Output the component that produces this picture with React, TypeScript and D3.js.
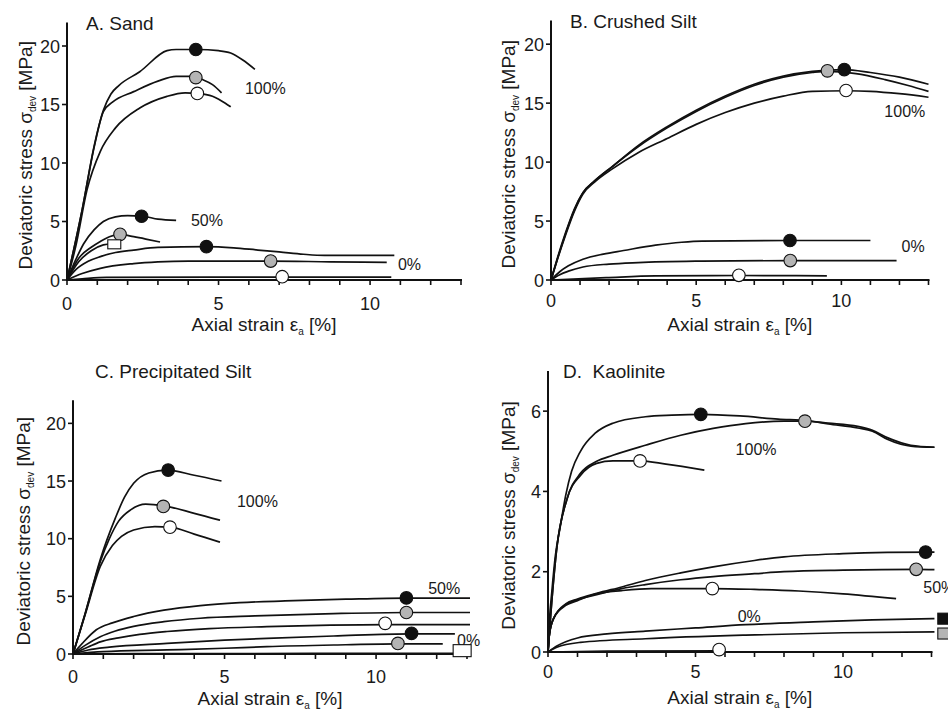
import React from 'react';
import * as d3 from 'd3';

type Pt = [number, number];
type Kind = 'solid' | 'gray' | 'open';
type Shape = 'circle' | 'square';

// ---------- A. Sand ----------
const sandSolid100: Pt[] = [[0,0],[0.5,6],[0.9,11.5],[1.2,14.5],[1.45,15.9],[1.7,16.6],[2.4,17.8],[3.3,19.6],[3.6,19.7],[4.3,19.7],[5,19.6],[5.4,19.4],[5.8,18.8],[6.2,18]];
const sandGray100: Pt[] = [[0,0],[0.5,6],[0.9,11.4],[1.2,14.4],[1.5,15.2],[2.2,16.1],[3,17],[3.6,17.4],[4.1,17.4],[4.5,17.1],[4.8,16.7],[5.1,16]];
const sandOpen100: Pt[] = [[0,0],[0.3,3],[0.66,7.7],[1.1,11],[1.6,13],[2.4,14.7],[3.3,15.7],[3.9,16],[4.3,15.95],[4.8,15.7],[5.1,15.3],[5.4,14.8]];
const sandSolid50: Pt[] = [[0,0],[0.3,1.8],[0.55,3.1],[0.9,4.3],[1.2,5.0],[1.6,5.4],[2.0,5.5],[2.5,5.45],[3.0,5.2],[3.6,5.1]];
const sandGray50: Pt[] = [[0,0],[0.4,1.9],[0.8,2.8],[1.1,3.3],[1.4,3.7],[1.75,3.9],[2.2,3.7],[2.6,3.5],[3.07,3.25]];
const sandOpen50: Pt[] = [[0,0],[0.4,1.6],[0.8,2.5],[1.2,3.0],[1.5,3.1]];
const sandSolid0: Pt[] = [[0,0],[0.3,0.9],[0.7,1.6],[1.1,2.0],[1.6,2.35],[2.2,2.56],[3,2.78],[4.6,2.85],[5.5,2.75],[6.3,2.56],[7,2.4],[7.8,2.2],[8.5,2.1],[10.8,2.1]];
const sandGray0: Pt[] = [[0,0],[0.5,0.55],[1.1,1.0],[2.2,1.4],[3,1.55],[4,1.62],[6.7,1.62],[8.7,1.55],[10.55,1.5]];
const sandOpen0: Pt[] = [[0,0],[0.5,0.1],[1.3,0.22],[7,0.25],[10.7,0.25]];
const sandMarkers: { x: number; y: number; kind: Kind; shape: Shape }[] = [
  { x: 4.25, y: 19.7, kind: 'solid', shape: 'circle' },
  { x: 4.25, y: 17.3, kind: 'gray', shape: 'circle' },
  { x: 4.3, y: 15.95, kind: 'open', shape: 'circle' },
  { x: 2.46, y: 5.45, kind: 'solid', shape: 'circle' },
  { x: 1.75, y: 3.9, kind: 'gray', shape: 'circle' },
  { x: 1.56, y: 3.05, kind: 'open', shape: 'square' },
  { x: 4.6, y: 2.85, kind: 'solid', shape: 'circle' },
  { x: 6.72, y: 1.62, kind: 'gray', shape: 'circle' },
  { x: 7.1, y: 0.28, kind: 'open', shape: 'circle' },
];
const sandLabels = [
  { text: '100%', x: 5.87, y: 15.9 },
  { text: '50%', x: 4.09, y: 4.6 },
  { text: '0%', x: 10.92, y: 0.85 },
];

// ---------- B. Crushed Silt ----------
const csSolid100: Pt[] = [[0,0],[0.2,1.6],[0.5,3.9],[0.8,5.9],[1.1,7.4],[1.5,8.4],[2.1,9.6],[3.0,11.4],[4.0,13.0],[5.0,14.4],[6.0,15.6],[7.0,16.6],[8.0,17.3],[9.0,17.7],[10.1,17.85],[11,17.6],[12,17.2],[13,16.6]];
const csGray100: Pt[] = [[0,0],[0.2,1.7],[0.5,4.0],[0.8,6.0],[1.1,7.4],[1.5,8.4],[2.1,9.6],[3.0,11.3],[4.0,12.9],[5.0,14.3],[6.0,15.5],[7.0,16.5],[8.0,17.2],[9.0,17.6],[9.5,17.7],[10.5,17.5],[11.5,17.0],[12.3,16.5],[13,16.0]];
const csOpen100: Pt[] = [[0,0],[0.2,1.6],[0.5,3.8],[0.8,5.8],[1.1,7.3],[1.5,8.3],[2.1,9.4],[3,10.8],[4,12.0],[5,13.2],[6,14.2],[7,15.0],[8,15.6],[9,16.0],[10.2,16.05],[11,16.0],[12,15.8],[13,15.5]];
const csSolid0: Pt[] = [[0,0],[0.3,0.7],[0.6,1.2],[1.1,1.76],[1.8,2.2],[2.5,2.5],[3.6,2.95],[4.5,3.2],[5.2,3.3],[8.2,3.35],[11,3.35]];
const csGray0: Pt[] = [[0,0],[0.3,0.45],[0.6,0.75],[1.1,1.1],[2,1.35],[3,1.48],[5.2,1.6],[8.2,1.65],[11.9,1.65]];
const csOpen0: Pt[] = [[0,0],[1.9,0.2],[3.6,0.35],[6.5,0.38],[9.5,0.35]];
const csMarkers: { x: number; y: number; kind: Kind; shape: Shape }[] = [
  { x: 10.1, y: 17.85, kind: 'solid', shape: 'circle' },
  { x: 9.52, y: 17.74, kind: 'gray', shape: 'circle' },
  { x: 10.16, y: 16.07, kind: 'open', shape: 'circle' },
  { x: 8.23, y: 3.35, kind: 'solid', shape: 'circle' },
  { x: 8.24, y: 1.65, kind: 'gray', shape: 'circle' },
  { x: 6.47, y: 0.4, kind: 'open', shape: 'circle' },
];
const csLabels = [
  { text: '100%', x: 11.48, y: 13.84 },
  { text: '0%', x: 12.07, y: 2.38 },
];

// ---------- C. Precipitated Silt ----------
const psSolid100: Pt[] = [[0,0],[0.4,3.5],[0.9,8.2],[1.4,11.8],[1.7,13.6],[2,14.8],[2.5,15.7],[3.1,15.95],[4,15.5],[4.9,15.0]];
const psGray100: Pt[] = [[0,0],[0.4,3.5],[0.9,8.0],[1.2,10.0],[1.5,11.5],[1.9,12.5],[2.4,13.0],[3,12.85],[4,12.2],[4.85,11.6]];
const psOpen100: Pt[] = [[0,0],[0.4,3.4],[0.9,7.6],[1.3,9.4],[1.6,10.2],[2,10.75],[2.7,11.05],[3.2,11.0],[4,10.4],[4.85,9.7]];
const psSolid50: Pt[] = [[0,0],[0.3,0.9],[0.77,2.1],[1.3,2.7],[2,3.25],[3,3.8],[4.2,4.2],[5.5,4.45],[7,4.6],[9,4.75],[11,4.85],[13.1,4.85]];
const psGray50: Pt[] = [[0,0],[0.4,0.75],[0.9,1.5],[1.4,2.0],[2,2.4],[3,2.8],[4.2,3.1],[6,3.3],[8.6,3.5],[11,3.6],[13.1,3.6]];
const psOpen50: Pt[] = [[0,0],[0.5,0.6],[0.9,1.05],[1.5,1.4],[2.2,1.7],[3.1,1.95],[4.5,2.2],[6.4,2.37],[8.5,2.5],[10.3,2.55],[13.1,2.55]];
const psSolid0: Pt[] = [[0,0],[0.5,0.35],[1.2,0.6],[3.1,0.92],[5,1.2],[6.4,1.36],[8.6,1.56],[11.2,1.75],[12.6,1.75]];
const psGray0: Pt[] = [[0,0],[1,0.2],[3.1,0.35],[5,0.5],[6.4,0.64],[9,0.8],[10.7,0.88],[12.2,0.88]];
const psOpen0: Pt[] = [[0,0],[2,0.03],[13.1,0.06]];
const psMarkers: { x: number; y: number; kind: Kind; shape: Shape }[] = [
  { x: 3.14, y: 15.95, kind: 'solid', shape: 'circle' },
  { x: 2.98, y: 12.8, kind: 'gray', shape: 'circle' },
  { x: 3.2, y: 11.0, kind: 'open', shape: 'circle' },
  { x: 11.0, y: 4.86, kind: 'solid', shape: 'circle' },
  { x: 11.0, y: 3.6, kind: 'gray', shape: 'circle' },
  { x: 10.3, y: 2.66, kind: 'open', shape: 'circle' },
  { x: 11.17, y: 1.79, kind: 'solid', shape: 'circle' },
  { x: 10.72, y: 0.92, kind: 'gray', shape: 'circle' },
  { x: 12.84, y: 0.29, kind: 'open', shape: 'square' },
];
const psLabels = [
  { text: '100%', x: 5.41, y: 12.75 },
  { text: '50%', x: 11.72, y: 5.2 },
  { text: '0%', x: 12.67, y: 0.69 },
];

// ---------- D. Kaolinite ----------
const kSolid100: Pt[] = [[0,0],[0.05,0.8],[0.13,1.5],[0.25,2.4],[0.41,3.1],[0.6,3.9],[0.8,4.5],[1.1,5.0],[1.6,5.45],[2.2,5.7],[3.3,5.86],[4.2,5.9],[5.2,5.92],[6.5,5.88],[7.8,5.8],[8.8,5.76],[9.5,5.68],[10.5,5.58],[11,5.5],[11.5,5.3],[12.3,5.13],[13.1,5.1]];
const kGray100: Pt[] = [[0,0],[0.1,1.0],[0.3,2.6],[0.64,3.8],[1.1,4.45],[1.65,4.75],[2.2,4.9],[3.3,5.15],[4.5,5.4],[5.6,5.57],[6.7,5.69],[8,5.75],[8.7,5.75],[9.5,5.7],[10.5,5.62],[11,5.52],[11.5,5.34],[12.3,5.15],[13.1,5.1]];
const kOpen100: Pt[] = [[0,0],[0.1,1.0],[0.3,2.6],[0.64,3.8],[1.1,4.4],[1.65,4.7],[2.2,4.76],[3.1,4.76],[4,4.68],[5.3,4.53]];
const kSolid50: Pt[] = [[0,0],[0.05,0.45],[0.2,0.85],[0.6,1.2],[1.0,1.32],[1.65,1.46],[2.5,1.62],[3.3,1.78],[4.5,1.97],[5.6,2.12],[7,2.28],[8,2.37],[10,2.45],[11.5,2.48],[13.1,2.49]];
const kGray50: Pt[] = [[0,0],[0.05,0.45],[0.2,0.85],[0.6,1.18],[1.0,1.3],[1.65,1.43],[2.5,1.58],[3.3,1.68],[4.5,1.8],[5.6,1.88],[7,1.95],[8,2.0],[10,2.04],[12.5,2.06],[13.1,2.05]];
const kOpen50: Pt[] = [[0,0],[0.05,0.45],[0.2,0.85],[0.6,1.16],[1.0,1.28],[1.65,1.45],[2.5,1.53],[3.5,1.58],[5.6,1.58],[7,1.56],[8.5,1.52],[10,1.45],[11.8,1.33]];
const kSolid0: Pt[] = [[0,0],[0.3,0.15],[1,0.35],[2,0.45],[3.3,0.52],[5,0.6],[6.7,0.68],[9,0.75],[11,0.8],[13.1,0.83]];
const kGray0: Pt[] = [[0,0],[0.3,0.12],[1.1,0.24],[3.3,0.33],[6.7,0.42],[10,0.48],[13.1,0.5]];
const kOpen0: Pt[] = [[0,0],[2,0.02],[6,0.03]];
const kMarkers: { x: number; y: number; kind: Kind; shape: Shape }[] = [
  { x: 5.18, y: 5.92, kind: 'solid', shape: 'circle' },
  { x: 8.71, y: 5.75, kind: 'gray', shape: 'circle' },
  { x: 3.12, y: 4.76, kind: 'open', shape: 'circle' },
  { x: 12.8, y: 2.49, kind: 'solid', shape: 'circle' },
  { x: 12.48, y: 2.06, kind: 'gray', shape: 'circle' },
  { x: 5.57, y: 1.58, kind: 'open', shape: 'circle' },
  { x: 13.4, y: 0.83, kind: 'solid', shape: 'square' },
  { x: 13.4, y: 0.46, kind: 'gray', shape: 'square' },
  { x: 5.8, y: 0.06, kind: 'open', shape: 'circle' },
];
const kLabels = [
  { text: '100%', x: 6.36, y: 4.91 },
  { text: '50%', x: 12.72, y: 1.47 },
  { text: '0%', x: 6.43, y: 0.75 },
];

const stressTicks = [0, 5, 10, 15, 20];
const kaolTicks = [0, 2, 4, 6];
const strainLabelTicks = [0, 5, 10];
const strainMinorTicks = d3.range(0, 14);

// ---------- layout ----------
const FONT = '"Liberation Sans", Arial, Helvetica, sans-serif';
const fills: Record<Kind, string> = { solid: '#111', gray: '#b4b4b4', open: '#fff' };

interface PanelCfg {
  title: string;
  curves: Pt[][];
  markers: { x: number; y: number; kind: Kind; shape: Shape }[];
  labels: { text: string; x: number; y: number }[];
  yMax: number;
  yTicks: number[];
  xRange: [number, number];
  yRange: [number, number];
  titlePos: [number, number];
  yLabelX: number;
  xLabelY: number;
  tickOffset: number;
  squareSize: [number, number];
}

const panels: PanelCfg[] = [
  {
    title: 'A. Sand',
    curves: [sandSolid100, sandGray100, sandOpen100, sandSolid50, sandGray50, sandOpen50, sandSolid0, sandGray0, sandOpen0],
    markers: sandMarkers, labels: sandLabels, yMax: 22, yTicks: stressTicks,
    xRange: [67, 461], yRange: [280, 22.6], titlePos: [86, 30], yLabelX: 32, xLabelY: 331, tickOffset: 30, squareSize: [13, 9],
  },
  {
    title: 'B. Crushed Silt',
    curves: [csSolid100, csGray100, csOpen100, csSolid0, csGray0, csOpen0],
    markers: csMarkers, labels: csLabels, yMax: 22, yTicks: stressTicks,
    xRange: [551, 928.5], yRange: [280, 20.6], titlePos: [570, 28], yLabelX: 515, xLabelY: 331, tickOffset: 27, squareSize: [13, 9],
  },
  {
    title: 'C. Precipitated Silt',
    curves: [psSolid100, psGray100, psOpen100, psSolid50, psGray50, psOpen50, psSolid0, psGray0, psOpen0],
    markers: psMarkers, labels: psLabels, yMax: 22, yTicks: stressTicks,
    xRange: [73, 467], yRange: [654, 400.3], titlePos: [95, 378], yLabelX: 30, xLabelY: 705, tickOffset: 29, squareSize: [18, 12],
  },
  {
    title: 'D.  Kaolinite',
    curves: [kSolid100, kGray100, kOpen100, kSolid50, kGray50, kOpen50, kSolid0, kGray0, kOpen0],
    markers: kMarkers, labels: kLabels, yMax: 7, yTicks: kaolTicks,
    xRange: [548, 931.5], yRange: [652, 371], titlePos: [563, 378], yLabelX: 515, xLabelY: 704, tickOffset: 26, squareSize: [11, 11],
  },
];

function Panel({ cfg }: { cfg: PanelCfg }) {
  const x = d3.scaleLinear().domain([0, 13]).range(cfg.xRange);
  const y = d3.scaleLinear().domain([0, cfg.yMax]).range(cfg.yRange);
  const line = d3.line<Pt>().x((d) => x(d[0])).y((d) => y(d[1])).curve(d3.curveMonotoneX);
  const x0 = x(0);
  const y0 = y(0);
  const yMid = (y(0) + y(cfg.yMax)) / 2 + 4;
  const xMid = (x(0) + x(13)) / 2;
  return (
    <g>
      <text x={cfg.titlePos[0]} y={cfg.titlePos[1]} fontSize={19} fill="#1a1a1a" style={{ whiteSpace: 'pre' }}>
        {cfg.title}
      </text>
      {cfg.curves.map((c, i) => (
        <path key={i} d={line(c) || ''} fill="none" stroke="#111" strokeWidth={1.7} strokeLinejoin="round" />
      ))}
      <line x1={x0} x2={x0} y1={y(cfg.yMax)} y2={y0 + 1} stroke="#111" strokeWidth={2} />
      <line x1={x0 - 1} x2={x(13) + 1} y1={y0} y2={y0} stroke="#111" strokeWidth={2} />
      {strainMinorTicks.map((t) => (
        <line key={t} x1={x(t)} x2={x(t)} y1={y0} y2={y0 + 5} stroke="#111" strokeWidth={1.6} />
      ))}
      {strainLabelTicks.map((t) => (
        <text key={t} x={x(t)} y={y0 + cfg.tickOffset} fontSize={18} textAnchor="middle" fill="#1a1a1a">
          {t}
        </text>
      ))}
      {cfg.yTicks.map((t) => (
        <g key={t}>
          <line x1={x0 - 5} x2={x0} y1={y(t)} y2={y(t)} stroke="#111" strokeWidth={1.6} />
          <text x={x0 - 7} y={y(t) + 6.5} fontSize={18} textAnchor="end" fill="#1a1a1a">
            {t}
          </text>
        </g>
      ))}
      <text x={xMid} y={cfg.xLabelY} fontSize={19} textAnchor="middle" fill="#1a1a1a">
        Axial strain ε<tspan fontSize={10} dy={4}>a</tspan>
        <tspan dy={-4}> [%]</tspan>
      </text>
      <text
        transform={`translate(${cfg.yLabelX},${yMid}) rotate(-90)`}
        fontSize={19}
        textAnchor="middle"
        fill="#1a1a1a"
      >
        Deviatoric stress σ<tspan fontSize={10} dy={4}>dev</tspan>
        <tspan dy={-4}> [MPa]</tspan>
      </text>
      {cfg.labels.map((l, i) => (
        <text key={i} x={x(l.x)} y={y(l.y)} fontSize={16} fill="#1a1a1a">
          {l.text}
        </text>
      ))}
      {cfg.markers.map((m, i) =>
        m.shape === 'circle' ? (
          <circle key={i} cx={x(m.x)} cy={y(m.y)} r={6.3} fill={fills[m.kind]} stroke="#111" strokeWidth={1.1} />
        ) : (
          <rect
            key={i}
            x={x(m.x) - cfg.squareSize[0] / 2}
            y={y(m.y) - cfg.squareSize[1] / 2}
            width={cfg.squareSize[0]}
            height={cfg.squareSize[1]}
            fill={fills[m.kind]}
            stroke="#111"
            strokeWidth={1.1}
          />
        )
      )}
    </g>
  );
}

export default function App() {
  return (
    <svg
      width={948}
      height={711}
      viewBox="0 0 948 711"
      style={{ position: 'absolute', left: 0, top: 0, background: '#fff', fontFamily: FONT }}
    >
      <rect width={948} height={711} fill="#fff" />
      {panels.map((p, i) => (
        <Panel key={i} cfg={p} />
      ))}
    </svg>
  );
}
